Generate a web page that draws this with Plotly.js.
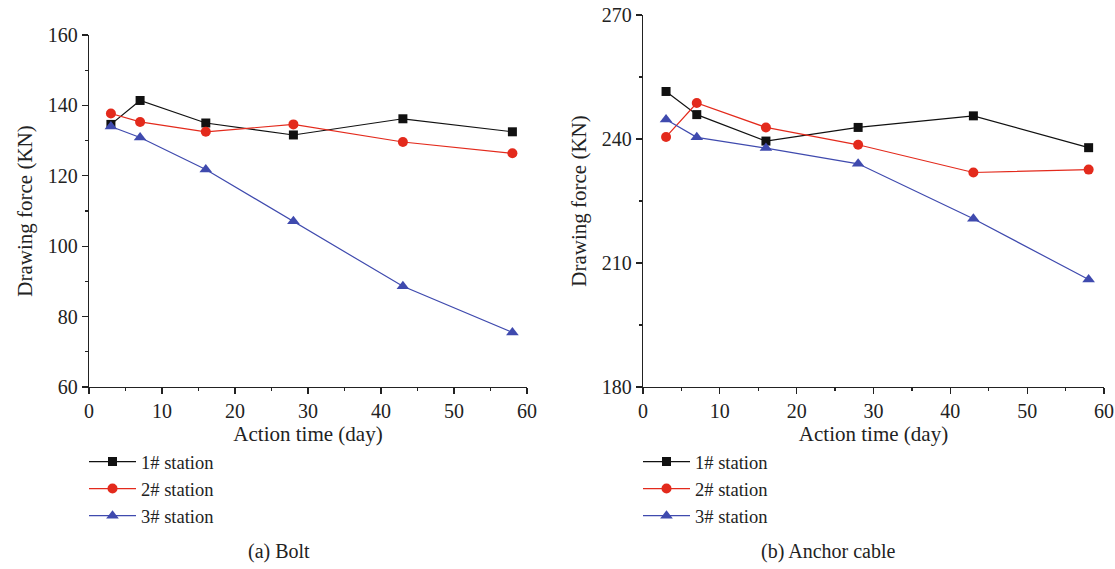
<!DOCTYPE html>
<html>
<head>
<meta charset="utf-8">
<script src="https://cdn.plot.ly/plotly-3.0.1.min.js"></script>
<style>html,body{margin:0;padding:0;background:#fff;}#chart{width:1115px;height:569px;}</style>
</head>
<body>
<div id="chart"></div>
<script>
// Data
const days = [3, 7, 16, 28, 43, 58];
const seriesNames = ["1# station", "2# station", "3# station"];
// (a) Bolt
const bolt1 = [134.6, 141.4, 135.0, 131.6, 136.2, 132.5];
const bolt2 = [137.7, 135.3, 132.5, 134.6, 129.6, 126.4];
const bolt3 = [134.0, 130.9, 121.8, 107.1, 88.6, 75.5];
// (b) Anchor cable
const cable1 = [251.5, 245.9, 239.5, 242.8, 245.6, 237.9];
const cable2 = [240.5, 248.7, 242.8, 238.6, 231.9, 232.6];
const cable3 = [244.7, 240.4, 237.8, 234.0, 220.7, 206.0];
const captions = ["(a) Bolt", "(b) Anchor cable"];
const xTitle = "Action time (day)";
const yTitle = "Drawing force (KN)";

const colors = ["#111111", "#e32a1c", "#3f4aae"];
const symbols = ["square", "circle", "triangle-up"];
const sizes = [9, 10, 11];
const FONT = "Liberation Serif, Times New Roman, serif";

function mk(y, i, xa, ya, leg) {
  return {
    x: days, y: y, type: "scatter", mode: "lines+markers",
    name: seriesNames[i], xaxis: xa, yaxis: ya, legend: leg,
    line: {color: colors[i], width: 1.2},
    marker: {color: colors[i], symbol: symbols[i], size: sizes[i], line: {width: 0}}
  };
}
const traces = [
  mk(bolt1, 0, "x", "y", "legend"),
  mk(bolt2, 1, "x", "y", "legend"),
  mk(bolt3, 2, "x", "y", "legend"),
  mk(cable1, 0, "x2", "y2", "legend2"),
  mk(cable2, 1, "x2", "y2", "legend2"),
  mk(cable3, 2, "x2", "y2", "legend2")
];

const W = 1115, H = 569;
function axisCommon() {
  return {
    showline: true, linecolor: "#222", linewidth: 1.2,
    ticks: "outside", ticklen: 6, tickwidth: 1.2, tickcolor: "#222",
    showgrid: false, zeroline: false, mirror: false,
    tickfont: {family: FONT, size: 20, color: "#222"},
    title: {font: {family: FONT, size: 21, color: "#222"}}
  };
}
const xa = Object.assign(axisCommon(), {
  domain: [89 / W, 527 / W], range: [0, 60], dtick: 10, tick0: 0, anchor: "y",
  minor: {dtick: 5, ticks: "outside", ticklen: 3, tickcolor: "#222", tickwidth: 1.2, showgrid: false}
});
xa.title.text = xTitle; xa.title.standoff = 0;
const ya = Object.assign(axisCommon(), {
  domain: [(H - 387) / H, (H - 35) / H], range: [60, 160], dtick: 20, tick0: 0, anchor: "x",
  minor: {dtick: 10, ticks: "outside", ticklen: 3, tickcolor: "#222", tickwidth: 1.2, showgrid: false}
});
ya.title.text = yTitle; ya.title.standoff = 9;
const xa2 = Object.assign(axisCommon(), {
  domain: [643 / W, 1104 / W], range: [0, 60], dtick: 10, tick0: 0, anchor: "y2",
  minor: {dtick: 5, ticks: "outside", ticklen: 3, tickcolor: "#222", tickwidth: 1.2, showgrid: false}
});
xa2.title.text = xTitle; xa2.title.standoff = 0;
const ya2 = Object.assign(axisCommon(), {
  domain: [(H - 387) / H, (H - 15) / H], range: [180, 270], dtick: 30, tick0: 0, anchor: "x2",
  minor: {dtick: 15, ticks: "outside", ticklen: 3, tickcolor: "#222", tickwidth: 1.2, showgrid: false}
});
ya2.title.text = yTitle; ya2.title.standoff = 9;

const legendBase = {
  font: {family: FONT, size: 18.5, color: "#222"},
  bgcolor: "rgba(0,0,0,0)", borderwidth: 0, itemwidth: 47,
  xanchor: "left", yanchor: "top", orientation: "v", tracegroupgap: 0
};
const layout = {
  width: W, height: H,
  margin: {l: 0, r: 0, t: 0, b: 0},
  paper_bgcolor: "#fff", plot_bgcolor: "#fff",
  font: {family: FONT, color: "#222"},
  showlegend: true,
  xaxis: xa, yaxis: ya, xaxis2: xa2, yaxis2: ya2,
  legend: Object.assign({x: 84 / W, y: 1 - 443 / H}, legendBase),
  legend2: Object.assign({x: 638 / W, y: 1 - 443 / H}, legendBase),
  annotations: [
    {text: captions[0], x: 279 / W, y: 1 - 551 / H, xref: "paper", yref: "paper",
     showarrow: false, xanchor: "center", yanchor: "middle", font: {family: FONT, size: 20, color: "#222"}},
    {text: captions[1], x: 828 / W, y: 1 - 551 / H, xref: "paper", yref: "paper",
     showarrow: false, xanchor: "center", yanchor: "middle", font: {family: FONT, size: 20, color: "#222"}}
  ]
};
Plotly.newPlot("chart", traces, layout, {displayModeBar: false, staticPlot: true});
</script>
</body>
</html>
